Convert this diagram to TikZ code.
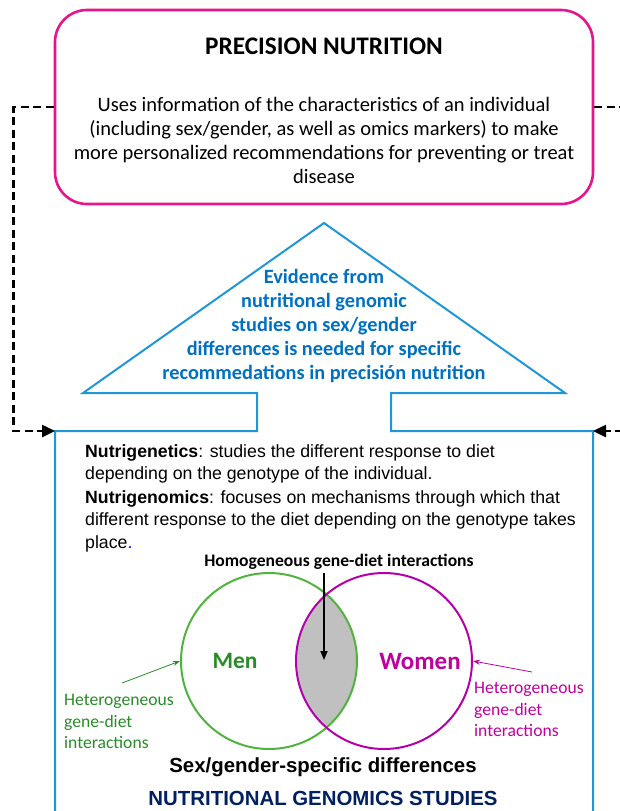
\documentclass[tikz,border=0pt]{standalone}
\usepackage{fontspec}
\setmainfont{Carlito}
\newfontfamily\arialfont{Liberation Sans}
\usetikzlibrary{arrows.meta, positioning}
\definecolor{pinkline}{RGB}{232, 20, 140}
\definecolor{skyline}{RGB}{30, 150, 215}
\definecolor{evblue}{RGB}{0, 112, 192}
\definecolor{menline}{RGB}{80, 180, 60}
\definecolor{mentext}{RGB}{40, 140, 40}
\definecolor{womenline}{RGB}{180, 0, 170}
\definecolor{womentext}{RGB}{190, 0, 160}
\definecolor{navy1}{RGB}{0, 32, 96}
\definecolor{lensgray}{RGB}{192, 192, 192}

\begin{document}
\begin{tikzpicture}[x=1pt, y=-1pt,
  pinkbox/.style={draw=pinkline, line width=2.6pt, rounded corners=32pt, minimum width=538pt, minimum height=194pt},
  dashconn/.style={line width=2.5pt, dash pattern=on 8pt off 4.5pt, -{Triangle[length=13pt, width=12pt]}},
  venn/.style={circle, line width=2pt, minimum size=176pt, inner sep=0pt},
  hetlabel/.style={align=left, inner sep=0pt, font=\fontsize{17.6}{21.5}\selectfont},
  thinarrow/.style={line width=0.8pt, -{Stealth[length=7pt, width=5pt]}},
  deftext/.style={align=left, inner sep=0pt, font=\arialfont\fontsize{17.7}{22.5}\selectfont}
]
  \clip (0,0) rectangle (620,811);

  % precision nutrition box
  \node[pinkbox] (precision) at (324,107) {};
  \node[font=\bfseries\fontsize{25.3}{28}\selectfont] (pntitle) at (324,46) {PRECISION NUTRITION};
  \node[align=center, font=\fontsize{20.5}{24}\selectfont] (pnbody) at (324,140) {Uses information of the characteristics of an individual\\
    (including sex/gender, as well as omics markers) to make\\
    more personalized recommendations for preventing or treat\\
    disease};

  % arrow shaped outline of the studies box
  \coordinate (boxNW) at (55,431);
  \coordinate (boxNE) at (593,431);
  \draw[skyline, line width=2pt] (55,840) -- (boxNW) -- (257,431) -- (257,393) -- (83,393)
    -- (324,223) -- (565,393) -- (391,393) -- (391,431) -- (boxNE) -- (593,840);
  \node[align=center, text=evblue, font=\bfseries\fontsize{20.3}{24}\selectfont] (evidence) at (324,326) {Evidence from\\
    nutritional genomic\\
    studies on sex/gender\\
    differences is needed for specific\\
    recommedations in precisión nutrition};

  % feedback connectors
  \draw[dashconn] (precision.west) -- ++(-40,0) |- (boxNW);
  \draw[dashconn] (precision.east) -- ++(40,0) |- (boxNE);

  % definitions
  \node[deftext, anchor=north west] (nutrigenetics) at (85,444) {\textbf{Nutrigenetics}: studies the different response to diet\\
    depending on the genotype of the individual.};
  \node[deftext, below=7pt of nutrigenetics.south west, anchor=north west] (nutrigenomics) {\textbf{Nutrigenomics}: focuses on mechanisms through which that\\
    different response to the diet depending on the genotype takes\\
    place\textcolor{blue}{.}};

  % venn diagram
  \begin{scope}
    \clip (269,661) circle (88);
    \fill[lensgray] (384,661) circle (88);
  \end{scope}
  \node[venn, draw=menline] (men) at (269,661) {};
  \node[venn, draw=womenline] (women) at (384,661) {};
  \coordinate (lens) at (324,660);
  \node[text=mentext, font=\bfseries\fontsize{23.5}{28}\selectfont] (menlabel) at (235,661) {Men};
  \node[text=womentext, font=\bfseries\fontsize{25}{28}\selectfont] (womenlabel) at (420,661) {Women};
  \node[font=\bfseries\fontsize{17.6}{20}\selectfont] (homog) at (339,562) {Homogeneous gene-diet interactions};
  \draw[line width=1.6pt, -{Triangle[length=9pt, width=7pt]}] (homog.south -| lens) -- (lens);

  \node[hetlabel, text=mentext, anchor=north west] (hetmen) at (64,694) {Heterogeneous\\gene-diet\\interactions};
  \node[hetlabel, text=womentext, anchor=north west] (hetwomen) at (474,682) {Heterogeneous\\gene-diet\\interactions};
  \draw[thinarrow, mentext] ([xshift=3pt, yshift=11pt]hetmen.north) -- (men.west);
  \draw[thinarrow, womentext] ([xshift=3pt, yshift=10pt]hetwomen.north) -- (women.east);

  \node[font=\arialfont\bfseries\fontsize{20.4}{24}\selectfont] (sexdiff) at (323,767) {Sex/gender-specific differences};
  \node[text=navy1, font=\arialfont\bfseries\fontsize{20.4}{24}\selectfont] (studies) at (323,798) {NUTRITIONAL GENOMICS STUDIES};
\end{tikzpicture}
\end{document}
